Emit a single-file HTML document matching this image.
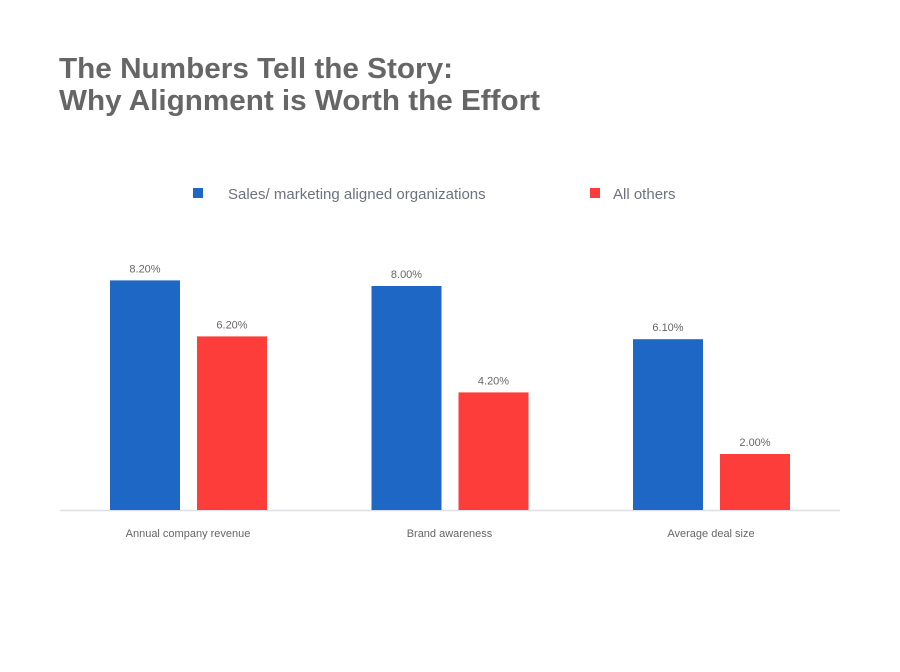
<!DOCTYPE html>
<html><head><meta charset="utf-8"><style>
html,body{margin:0;padding:0;background:#fff;width:900px;height:672px;overflow:hidden}
svg{display:block;font-family:"Liberation Sans",sans-serif}
</style></head><body>
<svg id="chart" width="900" height="672" viewBox="0 0 900 672">
<text x="59" y="78" font-size="29" font-weight="bold" fill="#666" textLength="394" lengthAdjust="spacingAndGlyphs">The Numbers Tell the Story:</text>
<text x="59" y="110" font-size="29" font-weight="bold" fill="#666" textLength="481" lengthAdjust="spacingAndGlyphs">Why Alignment is Worth the Effort</text>
<g>
<rect x="193" y="188" width="10" height="10" fill="#1f67c4"/>
<text x="228" y="199" font-size="15" fill="#6e7180">Sales/ marketing aligned organizations</text>
<rect x="590" y="188" width="10" height="10" fill="#fc3d3a"/>
<text x="613" y="199" font-size="15" fill="#6e7180">All others</text>
</g>
<line x1="60" y1="510.5" x2="840" y2="510.5" stroke="#dde0e6" stroke-width="1.5"/>
<g id="bars"></g>
</svg>
<script>
const categories = ["Annual company revenue", "Brand awareness", "Average deal size"];
const alignedValues = [8.2, 8.0, 6.1];
const otherValues = [6.2, 4.2, 2.0];
const valueLabels = ["8.20%", "8.00%", "6.10%"];
const otherLabels = ["6.20%", "4.20%", "2.00%"];

const baseY = 510, pxPerUnit = 28;
const y = v => baseY - v * pxPerUnit;
const groupX = i => 110 + i * 261.5;
const barW = 70;
const ns = "http://www.w3.org/2000/svg";
const g = document.getElementById("bars");
function mk(tag, attrs){const e=document.createElementNS(ns,tag);for(const k in attrs)e.setAttribute(k,attrs[k]);g.appendChild(e);return e;}
categories.forEach((c,i)=>{
  const x0 = groupX(i), x1 = x0 + 87;
  let r = mk("rect",{x:x0,y:y(alignedValues[i]),width:barW,height:baseY-y(alignedValues[i]),fill:"#1f67c4"});
  
  
  let r2 = mk("rect",{x:x1,y:y(otherValues[i]),width:barW,height:baseY-y(otherValues[i]),fill:"#fc3d3a"});
  
  
  let t = mk("text",{x:x0+barW/2,y:y(alignedValues[i])-8,"font-size":11,fill:"#666","text-anchor":"middle"});
  t.textContent = valueLabels[i];
  
  
  let t2 = mk("text",{x:x1+barW/2,y:y(otherValues[i])-8,"font-size":11,fill:"#666","text-anchor":"middle"});
  t2.textContent = otherLabels[i];
  
  
  let cl = mk("text",{x:x0+78,y:537,"font-size":11,fill:"#666","text-anchor":"middle"});
  cl.textContent = c;
  
  
});
</script>
</body></html>
